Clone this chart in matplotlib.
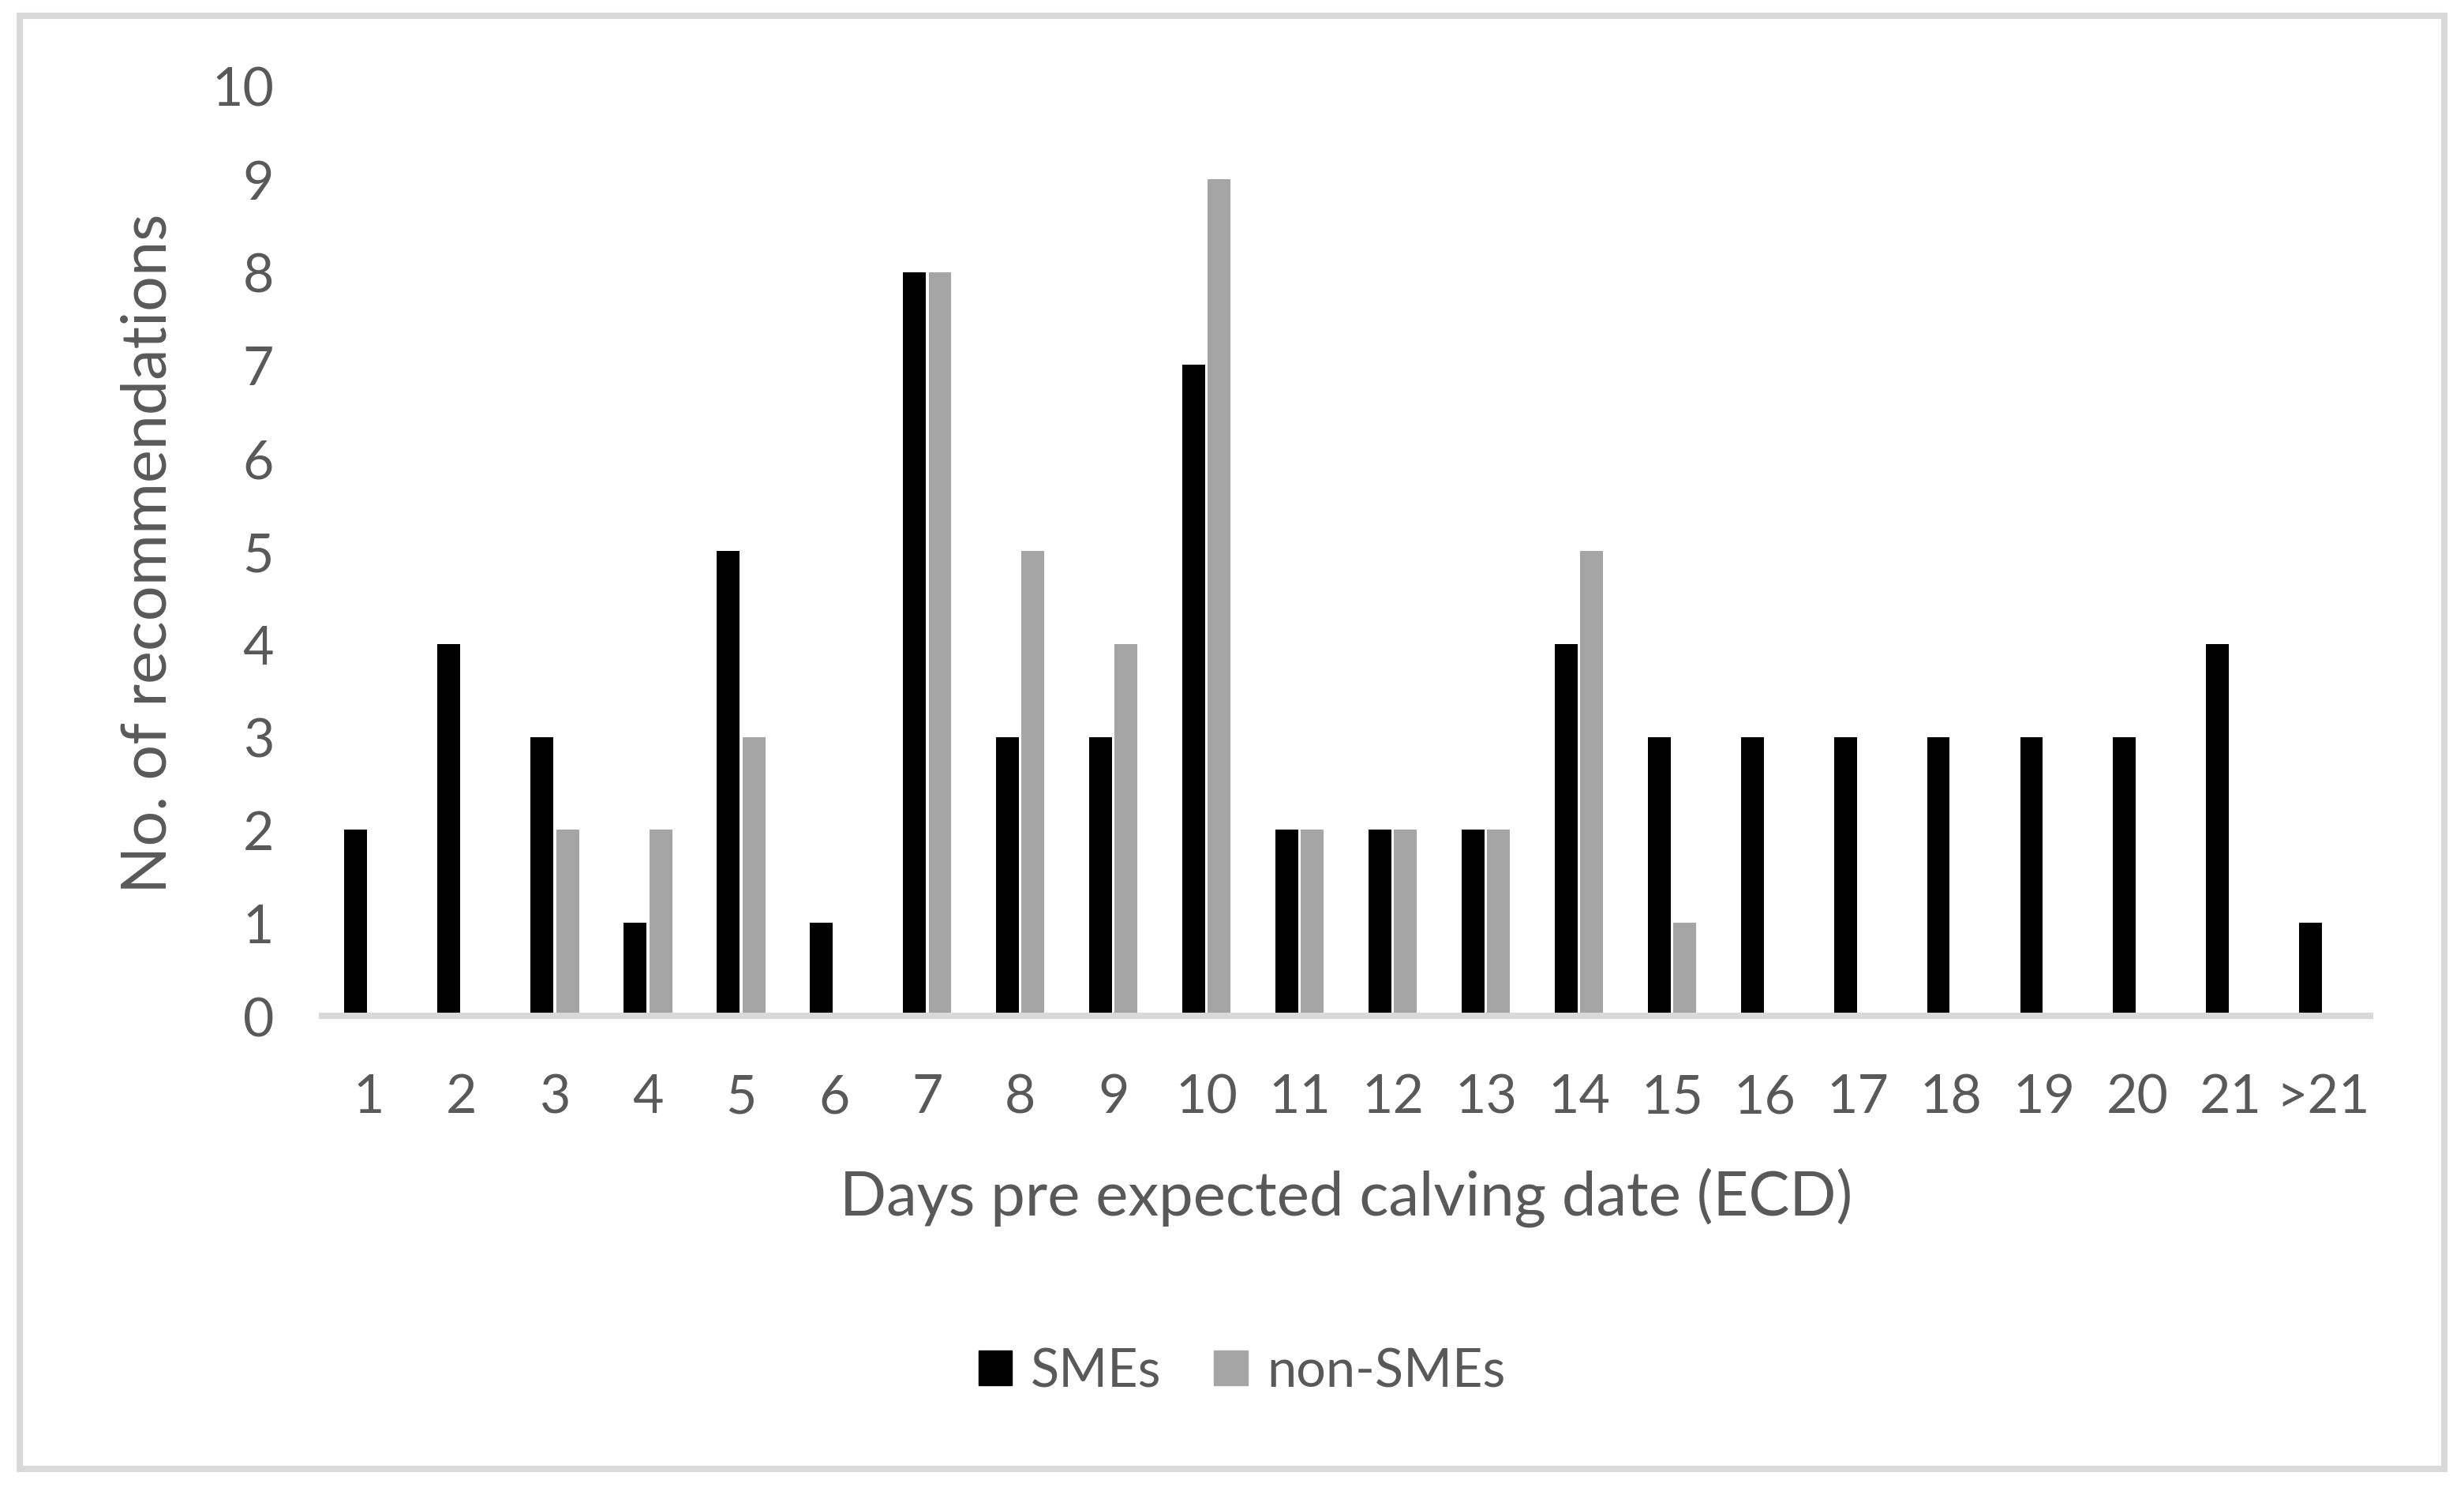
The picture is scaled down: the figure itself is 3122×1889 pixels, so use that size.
import matplotlib
matplotlib.use('Agg')
import matplotlib.pyplot as plt
import numpy as np
from matplotlib.patches import Rectangle, Patch

days = ['1', '2', '3', '4', '5', '6', '7', '8', '9', '10', '11', '12', '13', '14',
        '15', '16', '17', '18', '19', '20', '21', '>21']
smes = [2, 4, 3, 1, 5, 1, 8, 3, 3, 7, 2, 2, 2, 4, 3, 3, 3, 3, 3, 3, 4, 1]
non_smes = [0, 0, 2, 2, 3, 0, 8, 5, 4, 9, 2, 2, 2, 5, 1, 0, 0, 0, 0, 0, 0, 0]

txt = '#595959'
grid = '#D9D9D9'
plt.rcParams['font.family'] = ['Lato', 'DejaVu Sans']

fig = plt.figure(figsize=(31.22, 18.9), dpi=100)
ax = fig.add_axes([0.1307, 0.3185, 0.9619 - 0.1307, 0.9418 - 0.3185])

x = np.arange(len(days))
w = 0.245
off = w / 2 + 0.015
ax.bar(x - off, smes, w, color='black', label='SMEs')
ax.bar(x + off, non_smes, w, color='#A5A5A5', label='non-SMEs')

ax.set_xlim(-0.5, len(days) - 0.5)
ax.set_ylim(0, 10)
ax.set_yticks(range(11))
ax.set_xticks(x)
ax.set_xticklabels(days)
for s in ['top', 'right', 'left']:
    ax.spines[s].set_visible(False)
ax.spines['bottom'].set_color(grid)
ax.spines['bottom'].set_linewidth(5.8)
ax.tick_params(axis='both', length=0, labelsize=49, colors=txt)
ax.tick_params(axis='x', pad=52)
ax.tick_params(axis='y', pad=44)

ax.set_xlabel('Days pre expected calving date (ECD)', fontsize=56, color=txt, labelpad=41)
fig.text(0.0605, 0.629, 'No. of recommendations', rotation=90, fontsize=57,
         color=txt, ha='center', va='center')

handles = [Patch(color='black', label='SMEs'), Patch(color='#A5A5A5', label='non-SMEs')]
fig.legend(handles=handles, loc='center', bbox_to_anchor=(0.504, 0.080), ncol=2,
           frameon=False, fontsize=48, labelcolor=txt, handlelength=0.64,
           handleheight=0.64, handletextpad=0.36, columnspacing=1.0)

fig.add_artist(Rectangle((0.008, 0.0148), 0.984, 0.974, transform=fig.transFigure,
                         fill=False, ec=grid, lw=5.8))

fig.savefig('out.png', dpi=100, facecolor='white')
